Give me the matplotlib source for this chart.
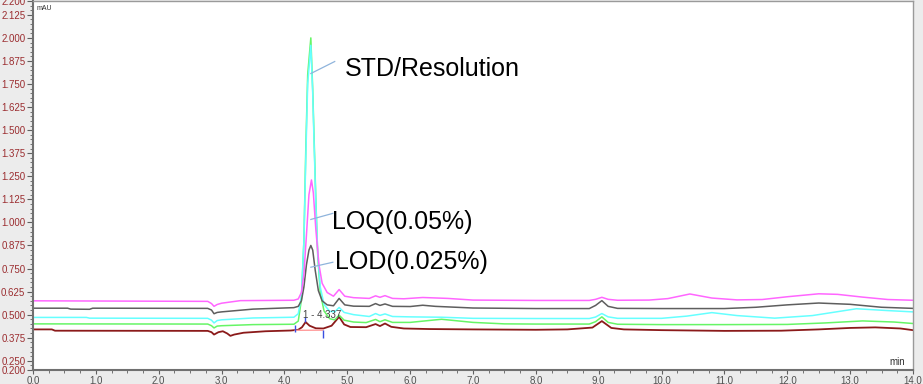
import matplotlib
matplotlib.use("Agg")
import matplotlib.pyplot as plt
from matplotlib.ticker import MultipleLocator, FixedLocator

plt.rcParams['font.family'] = ['Liberation Sans', 'DejaVu Sans']

# traces (time in min, signal)
magenta_t = [0, 2.78, 2.84, 2.88, 2.93, 3.0, 3.3, 4.15, 4.22, 4.27, 4.31, 4.35, 4.39, 4.43, 4.46, 4.5,
             4.55, 4.6, 4.68, 4.78, 4.87, 4.96, 5.1, 5.35, 5.45, 5.52, 5.6, 5.72, 5.9, 6.2, 6.6, 7.0,
             8.0, 8.85, 8.95, 9.05, 9.15, 9.3, 9.8, 10.1, 10.45, 10.8, 11.2, 11.6, 12.0, 12.5, 12.8,
             13.2, 13.6, 14.0]
magenta_v = [0.575, 0.572, 0.56, 0.545, 0.555, 0.562, 0.576, 0.578, 0.585, 0.62, 0.72, 0.93, 1.15, 1.23,
             1.16, 0.96, 0.77, 0.67, 0.62, 0.6, 0.636, 0.6, 0.592, 0.588, 0.602, 0.594, 0.603, 0.588,
             0.586, 0.593, 0.588, 0.579, 0.577, 0.577, 0.583, 0.594, 0.583, 0.578, 0.579, 0.587,
             0.612, 0.59, 0.58, 0.582, 0.597, 0.613, 0.61, 0.595, 0.582, 0.578]

gray_t = [0, 0.55, 0.6, 0.9, 0.95, 2.78, 2.84, 2.88, 2.93, 3.0, 3.5, 4.15, 4.22, 4.27, 4.31, 4.35, 4.39,
          4.42, 4.45, 4.49, 4.54, 4.6, 4.68, 4.78, 4.87, 4.96, 5.1, 5.35, 5.45, 5.52, 5.6, 5.72, 6.0,
          6.2, 6.4, 7.0, 8.0, 8.85, 8.95, 9.05, 9.15, 9.3, 10.0, 11.0, 11.5, 12.0, 12.5, 13.0, 13.5, 14.0]
gray_v = [0.535, 0.535, 0.53, 0.529, 0.535, 0.534, 0.525, 0.505, 0.512, 0.515, 0.53, 0.538, 0.545,
          0.575, 0.65, 0.77, 0.85, 0.875, 0.85, 0.74, 0.63, 0.575, 0.553, 0.548, 0.588, 0.553, 0.546,
          0.545, 0.56, 0.55, 0.558, 0.545, 0.544, 0.551, 0.545, 0.536, 0.533, 0.533, 0.55, 0.576,
          0.545, 0.534, 0.533, 0.533, 0.54, 0.553, 0.563, 0.556, 0.54, 0.534]

cyan_t = [0, 0.85, 0.9, 2.78, 2.84, 2.88, 2.93, 3.0, 3.5, 4.15, 4.22, 4.27, 4.31, 4.34, 4.37, 4.42, 4.45,
          4.47, 4.5, 4.53, 4.57, 4.63, 4.72, 4.8, 4.87, 4.95, 5.1, 5.35, 5.45, 5.52, 5.6, 5.72, 6.0,
          6.5, 7.0, 8.0, 8.85, 8.95, 9.05, 9.15, 9.3, 10.0, 10.4, 10.8, 11.2, 11.8, 12.4, 13.1, 13.6, 14.0]
cyan_v = [0.485, 0.485, 0.481, 0.48, 0.47, 0.455, 0.468, 0.472, 0.482, 0.486, 0.505, 0.6, 0.9, 1.35,
          1.75, 1.96, 1.7, 1.45, 1.1, 0.83, 0.65, 0.555, 0.518, 0.515, 0.539, 0.512, 0.5, 0.49, 0.506,
          0.496, 0.504, 0.49, 0.488, 0.486, 0.48, 0.479, 0.479, 0.487, 0.506, 0.488, 0.48, 0.48,
          0.492, 0.511, 0.495, 0.481, 0.495, 0.532, 0.522, 0.515]

green_t = [0, 2.78, 2.84, 2.88, 2.93, 3.0, 3.5, 4.15, 4.22, 4.27, 4.31, 4.34, 4.37, 4.42, 4.45, 4.47,
           4.5, 4.53, 4.57, 4.63, 4.72, 4.8, 4.87, 4.95, 5.1, 5.3, 5.45, 5.52, 5.6, 5.72, 6.0, 6.5,
           7.0, 7.5, 8.0, 8.85, 8.95, 9.05, 9.15, 9.3, 10.0, 11.0, 12.0, 12.6, 13.2, 13.7, 14.0]
green_v = [0.45, 0.449, 0.44, 0.428, 0.438, 0.44, 0.446, 0.448, 0.465, 0.58, 0.9, 1.4, 1.8, 2.0, 1.72,
           1.48, 1.12, 0.82, 0.62, 0.52, 0.478, 0.472, 0.497, 0.47, 0.46, 0.457, 0.474, 0.462, 0.472,
           0.458, 0.458, 0.475, 0.458, 0.45, 0.449, 0.449, 0.462, 0.488, 0.458, 0.448, 0.446, 0.446,
           0.447, 0.455, 0.466, 0.46, 0.452]

darkred_t = [0, 0.3, 0.35, 2.78, 2.84, 2.88, 2.95, 3.02, 3.09, 3.14, 3.2, 3.35, 3.7, 4.1, 4.22, 4.28,
             4.337, 4.4, 4.5, 4.62, 4.75, 4.87, 4.95, 5.05, 5.3, 5.45, 5.52, 5.6, 5.7, 5.9, 6.3, 7.0,
             8.0, 8.5, 8.9, 9.05, 9.2, 9.4, 10.0, 11.0, 11.9, 12.5, 13.0, 13.4, 13.8, 14.0]
darkred_v = [0.42, 0.42, 0.413, 0.412, 0.405, 0.392, 0.405, 0.41, 0.398, 0.385, 0.392, 0.402, 0.41,
             0.414, 0.418, 0.432, 0.46, 0.44, 0.426, 0.425, 0.44, 0.488, 0.447, 0.433, 0.432, 0.449,
             0.438, 0.452, 0.434, 0.425, 0.422, 0.42, 0.418, 0.42, 0.43, 0.465, 0.428, 0.42, 0.416,
             0.412, 0.413, 0.42, 0.428, 0.431, 0.425, 0.416]

# integration events on the blank trace
event_t = [4.17, 4.33, 4.61]
event_lo = [0.405, 0.46, 0.373]
event_hi = [0.443, 0.486, 0.416]
peak_label = "1 - 4.337"

ytick_vals = [0.2, 0.25, 0.375, 0.5, 0.625, 0.75, 0.875, 1.0, 1.125, 1.25, 1.375, 1.5, 1.625,
              1.75, 1.875, 2.0, 2.125, 2.2]
xtick_vals = [0, 1, 2, 3, 4, 5, 6, 7, 8, 9, 10, 11, 12, 13, 14]

fig = plt.figure(figsize=(9.23, 3.84), dpi=100, facecolor='#ececec')
ax = fig.add_axes([33 / 923, 14 / 384, 880 / 923, 369 / 384])
ax.set_facecolor('white')

ax.plot(darkred_t, darkred_v, color='#8b1a1a', lw=1.3)
ax.plot(green_t, green_v, color='#66f566', lw=1.1)
ax.plot(cyan_t, cyan_v, color='#66ffff', lw=1.1)
ax.plot(gray_t, gray_v, color='#5e5e5e', lw=1.1)
ax.plot(magenta_t, magenta_v, color='#ff66ff', lw=1.1)

# baseline + event marks
ax.plot([event_t[0], event_t[-1]], [darkred_v[14] - 0.003, darkred_v[14] - 0.002], color='#ff9a9a', lw=1)
ax.vlines(event_t, event_lo, event_hi, color='#3a4fe0', lw=1)
ax.text(4.30, 0.497, peak_label, fontsize=7, color='#404040', va='center', ha='left')

# callouts
lc = '#8fb4dc'
ax.plot([4.42, 4.80], [1.807, 1.872], color=lc, lw=0.9)
ax.plot([4.42, 4.77], [1.016, 1.049], color=lc, lw=0.9)
ax.plot([4.42, 4.77], [0.757, 0.784], color=lc, lw=0.9)
ax.text(4.96, 1.833, 'STD/Resolution', fontsize=18, va='center', ha='left')
ax.text(4.76, 1.0, 'LOQ(0.05%)', fontsize=18, va='center', ha='left')
ax.text(4.80, 0.784, 'LOD(0.025%)', fontsize=18, va='center', ha='left')

ax.text(13.87, 0.243, 'min', fontsize=7, color='#303030', ha='right', va='center')
ax.text(0.06, 2.16, 'mAU', fontsize=5, color='#303030', ha='left', va='center')

ax.set_xlim(0, 14)
ax.set_ylim(0.2, 2.2)
ax.xaxis.set_major_locator(FixedLocator(xtick_vals))
ax.xaxis.set_minor_locator(MultipleLocator(0.25))
ax.set_xticklabels(['%.1f' % v for v in xtick_vals])
ax.yaxis.set_major_locator(FixedLocator(ytick_vals))
ax.yaxis.set_minor_locator(MultipleLocator(0.025))
ax.set_yticklabels(['%.3f' % v for v in ytick_vals])

ax.tick_params(axis='y', which='major', length=4, width=0.8, color='#606060', labelsize=7,
               labelcolor='#9b2d30', pad=1.5)
ax.tick_params(axis='y', which='minor', length=2, width=0.6, color='#606060')
ax.tick_params(axis='x', which='major', length=3, width=0.8, color='#606060', labelsize=7,
               labelcolor='#505050', pad=1)
ax.tick_params(axis='x', which='minor', length=2, width=0.6, color='#606060')

for s in ['top', 'right']:
    ax.spines[s].set_color('#9a9a9a')
    ax.spines[s].set_linewidth(1.0)
for s in ['left', 'bottom']:
    ax.spines[s].set_color('#707070')
    ax.spines[s].set_linewidth(1.5)

fig.savefig('out.png', dpi=100, facecolor=fig.get_facecolor())
